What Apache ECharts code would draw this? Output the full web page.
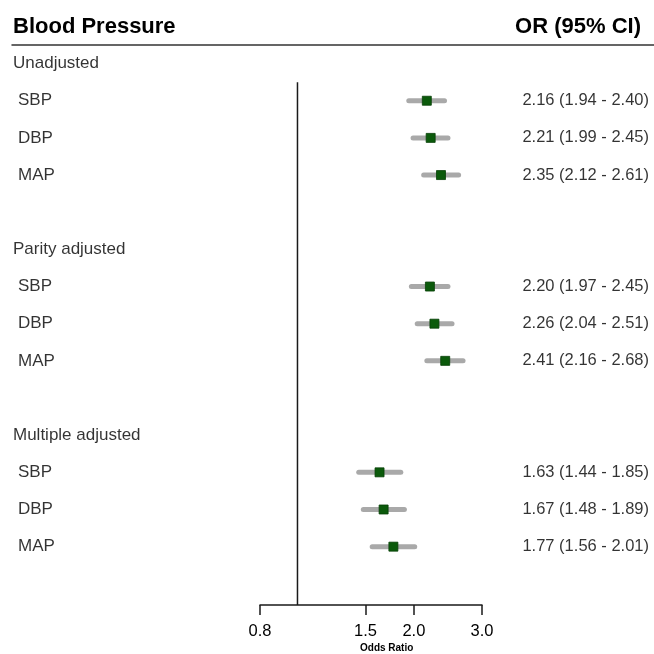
<!DOCTYPE html>
<html>
<head>
<meta charset="utf-8">
<script src="https://cdn.jsdelivr.net/npm/echarts@6/dist/echarts.min.js"></script>
<style>html,body{margin:0;padding:0;background:#fff}#c{width:654px;height:654px}</style>
</head>
<body>
<div id="c"></div>
<script>
// ---- data ----
const rowLabels = ["Unadjusted","SBP","DBP","MAP","","Parity adjusted","SBP","DBP","MAP","","Multiple adjusted","SBP","DBP","MAP"];
const groupRows = [0, 5, 10];
const estRows = [1, 2, 3, 6, 7, 8, 11, 12, 13];
const orValues = [2.16, 2.21, 2.35, 2.20, 2.26, 2.41, 1.63, 1.67, 1.77];
const ciLower = [1.94, 1.99, 2.12, 1.97, 2.04, 2.16, 1.44, 1.48, 1.56];
const ciUpper = [2.40, 2.45, 2.61, 2.45, 2.51, 2.68, 1.85, 1.89, 2.01];
const xTicks = [0.8, 1.5, 2.0, 3.0];
const xMin = 0.8, xMax = 3.0, refValue = 1.0;

const FONT = 'Liberation Sans, Arial, sans-serif';
const L = Math.log;
const yMin = -0.5, yMax = 14.57;

const labelData = rowLabels.map((t, i) => ({
  value: [groupRows.includes(i) ? 13 : 18, i], name: t
})).filter(d => d.name !== '');
const valueText = estRows.map((r, k) => ({
  value: [649, r],
  name: orValues[k].toFixed(2) + ' (' + ciLower[k].toFixed(2) + ' - ' + ciUpper[k].toFixed(2) + ')'
}));
const ciData = estRows.map((r, k) => [L(ciLower[k]), L(ciUpper[k]), r]);
const pointData = estRows.map((r, k) => [L(orValues[k]), r]);

const chart = echarts.init(document.getElementById('c'), null, {renderer: 'canvas'});
chart.setOption({
  animation: false,
  backgroundColor: '#fff',
  title: [
    {text: 'Blood Pressure', left: 8, top: 11, textStyle: {fontFamily: FONT, fontSize: 22, fontWeight: 'bold', color: '#000'}},
    {text: 'OR (95% CI)', right: 8, top: 11, textStyle: {fontFamily: FONT, fontSize: 22, fontWeight: 'bold', color: '#000'}}
  ],
  grid: [
    {left: 260, right: 172, top: 45, height: 560},
    {left: 12, right: 0, top: 45, height: 560}
  ],
  xAxis: [
    {
      gridIndex: 0, type: 'value', min: L(xMin), max: L(xMax), position: 'bottom',
      axisLine: {show: true, onZero: false, lineStyle: {color: '#1a1a1a', width: 1.5}},
      axisTick: {show: true, inside: false, length: 10, customValues: xTicks.map(L), lineStyle: {color: '#1a1a1a', width: 1.5}},
      axisLabel: {customValues: xTicks.map(L), margin: 18, fontFamily: FONT, fontSize: 16.5, color: '#000',
        formatter: v => Math.exp(v).toFixed(1)},
      splitLine: {show: false}
    },
    {
      gridIndex: 1, type: 'value', min: 12, max: 654, position: 'top',
      axisLine: {show: true, onZero: false, lineStyle: {color: '#333', width: 1.5}},
      axisTick: {show: false}, axisLabel: {show: false}, splitLine: {show: false}
    }
  ],
  yAxis: [
    {gridIndex: 0, type: 'value', inverse: true, min: yMin, max: yMax, show: false},
    {gridIndex: 1, type: 'value', inverse: true, min: yMin, max: yMax, show: false}
  ],
  graphic: [
    {type: 'text', left: 360, top: 643, style: {text: 'Odds Ratio', font: 'bold 10px ' + FONT, fill: '#000'}}
  ],
  series: [
    {
      type: 'line', xAxisIndex: 0, yAxisIndex: 0, symbol: 'none',
      data: [[L(refValue), 0.5], [L(refValue), yMax]],
      lineStyle: {color: '#1a1a1a', width: 1.5}, silent: true
    },
    {
      type: 'custom', xAxisIndex: 0, yAxisIndex: 0,
      renderItem: (params, api) => {
        const a = api.coord([api.value(0), api.value(2)]);
        const b = api.coord([api.value(1), api.value(2)]);
        return {type: 'line', shape: {x1: a[0], y1: a[1], x2: b[0], y2: b[1]},
          style: {stroke: '#a9a9a9', lineWidth: 5, lineCap: 'round'}};
      },
      data: ciData, encode: {x: [0, 1], y: 2}
    },
    {
      type: 'scatter', xAxisIndex: 0, yAxisIndex: 0, symbol: 'rect', symbolSize: 9,
      itemStyle: {color: '#0b5a0b', borderColor: '#064006', borderWidth: 0.8, opacity: 1},
      data: pointData
    },
    {
      type: 'scatter', xAxisIndex: 1, yAxisIndex: 1, symbolSize: 0,
      label: {show: true, position: 'right', distance: 0, formatter: p => p.name,
        fontFamily: FONT, fontSize: 17, color: '#000'},
      data: labelData
    },
    {
      type: 'scatter', xAxisIndex: 1, yAxisIndex: 1, symbolSize: 0,
      label: {show: true, position: 'left', distance: 0, formatter: p => p.name,
        fontFamily: FONT, fontSize: 16.5, color: '#000'},
      data: valueText
    }
  ]
});
</script>
</body>
</html>
